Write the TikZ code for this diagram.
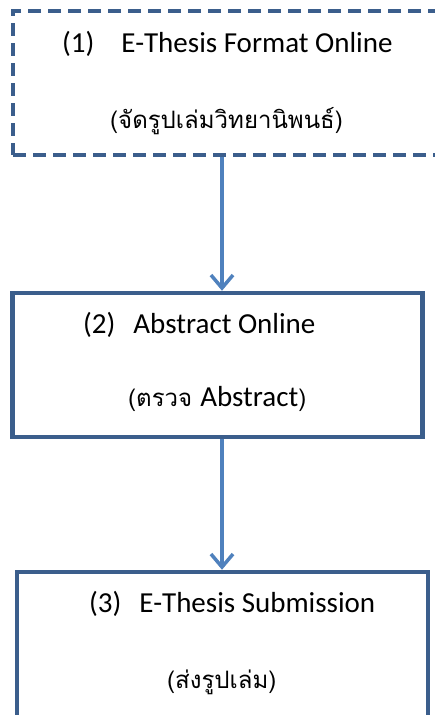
\documentclass[tikz,border=0pt]{standalone}
\usepackage{fontspec}
\setmainfont{Carlito}
\newfontfamily\thaifont[Script=Thai]{Loma}
\usetikzlibrary{arrows.meta,positioning}
\definecolor{boxblue}{HTML}{3B5E8C}
\definecolor{arrowblue}{HTML}{4F81BD}
\tikzset{
  stepbox/.style={draw=boxblue, line width=4.5pt, rectangle, inner sep=0pt},
  flow/.style={draw=arrowblue, line width=3.5pt, -{Straight Barb[length=13pt,width=22pt]}},
  heading/.style={font=\fontsize{29}{32}\selectfont, anchor=base west, inner sep=0pt},
  thailine/.style={font=\thaifont\fontsize{24}{28}\selectfont, anchor=base west, inner sep=0pt}
}
\begin{document}
\begin{tikzpicture}[x=1pt,y=-1pt]
  \useasboundingbox (0,0) rectangle (434,715);
  % the three steps
  \node[stepbox, dash pattern=on 13pt off 7pt, minimum width=432pt, minimum height=144pt] (box1) at (229,83) {};
  \node[stepbox, minimum width=410pt, minimum height=144pt] (box2) at (217.5,365) {};
  \node[stepbox, minimum width=411pt, minimum height=146pt] (box3) at (222.5,645) {};
  % texts
  \node[heading] (lbl1) at (62,52) {(1)\hspace{27pt}E-Thesis Format Online};
  \node[thailine] (sub1) at (110,128) {(จัดรูปเล่มวิทยานิพนธ์)};
  \node[heading] (lbl2) at (83,333) {(2)\hspace{18pt}Abstract Online};
  \node[thailine] (sub2) at (128,406) {(ตรวจ {\fontspec{Carlito}\fontsize{29}{32}\selectfont Abstract})};
  \node[heading] (lbl3) at (89,612) {(3)\hspace{18pt}E-Thesis Submission};
  \node[thailine] (sub3) at (167,688) {(ส่งรูปเล่ม)};
  % connectors
  \draw[flow] ([xshift=-7pt]box1.south) -- ([xshift=4.5pt]box2.north);
  \draw[flow] ([xshift=4.5pt]box2.south) -- ([xshift=-0.5pt]box3.north);
\end{tikzpicture}
\end{document}
